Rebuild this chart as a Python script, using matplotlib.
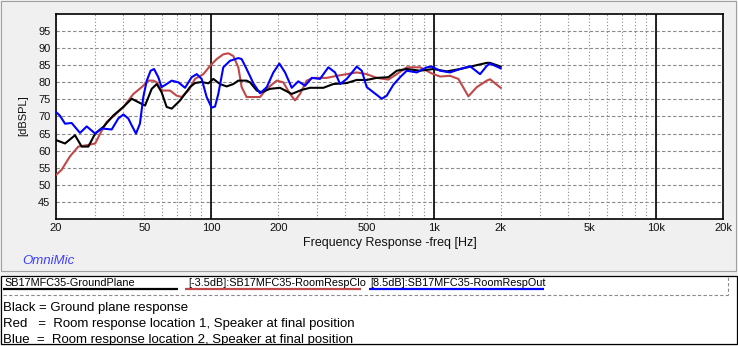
import matplotlib
matplotlib.use("Agg")
import matplotlib.pyplot as plt
from matplotlib.patches import Rectangle
from matplotlib.ticker import FixedLocator, NullFormatter

plt.rcParams['font.family'] = ['Liberation Sans', 'DejaVu Sans']

# ---------------- data ----------------
black_f = [20, 21.96, 24.35, 26.09, 27.96, 30.0, 32.7, 36.2, 40.2, 43.8, 46.9, 50.3, 53.9, 56.8, 59.7,
           62.9, 66.3, 72.3, 80.1, 84.4, 90.4, 96.9, 102.0, 109.3, 117.1, 125.5, 132.1, 144, 149.2, 159.9,
           168.4, 183.6, 203.5, 229.8, 254.9, 277.7, 318.8, 353.6, 406.2, 450.5, 499.7, 554.2, 625.0,
           681.9, 756.2, 868.0, 996.3, 1144.5, 1314.0, 1507.9, 1731.6, 1792, 2000]
black_db = [63.1, 62.1, 64.5, 61.2, 61.2, 65.0, 67.0, 70.3, 72.8, 75.2, 74.2, 73.2, 78.1, 79.5, 77.1,
            72.8, 72.3, 74.7, 78.6, 79.8, 80.1, 79.7, 81.0, 79.5, 78.8, 79.5, 80.5, 80.5, 80.0, 77.6,
            77.1, 78.1, 78.4, 76.6, 77.8, 78.4, 78.4, 79.5, 79.8, 80.7, 80.7, 81.3, 81.5,
            83.4, 83.9, 83.4, 83.9, 83.2, 83.9, 84.8, 85.7, 85.7, 84.6]

red_f = [20, 21.2, 23.1, 25.2, 27.5, 30.0, 31.6, 33.8, 36.9, 40.2, 44.6, 48.6, 52.1, 54.8, 56.8,
         59.7, 65.1, 69.8, 73.5, 78.8, 84.4, 92.0, 98.6, 105.6, 113.1, 119.2, 125.5, 132.1, 136.8, 144,
         155, 165.5, 177.4, 196.7, 210.6, 225.8, 237.8, 250.4, 268.4, 287.3, 330.2, 366.2, 406.2,
         450.5, 499.7, 554.2, 625.0, 681.9, 756.2, 868.0, 979.9, 1067.8, 1184.2, 1290.9, 1431.6,
         1561.9, 1731.6, 1792, 2000]
red_db = [52.9, 54.4, 58.3, 61.2, 61.6, 62.1, 65.0, 68.4, 70.5, 72.8, 76.6, 78.6, 80.5, 80.5, 80.0,
          77.6, 77.6, 76.1, 75.7, 77.6, 81.0, 82.4, 84.8, 86.8, 88.2, 88.5, 87.7, 84.4, 78.6, 75.7,
          75.7, 75.7, 78.1, 80.5, 80.0, 76.6, 74.7, 76.6, 80.5, 81.3, 81.3, 81.9, 82.4,
          82.9, 82.4, 81.3, 80.8, 82.4, 84.4, 84.4, 82.6, 81.7, 81.9, 81.0, 75.9,
          78.6, 80.5, 80.9, 78.4]

blue_f = [20, 20.8, 21.96, 23.52, 25.64, 27.5, 30.0, 32.1, 35.6, 38.1, 40.2, 42.3, 43.8, 45.8, 47.7,
          49.4, 51.2, 53.3, 55.2, 57.7, 59.7, 62.9, 66.3, 71.0, 76.1, 81.5, 85.9, 90.4, 95.2, 100.2,
          103.8, 107.4, 113.1, 121.2, 132.1, 136.8, 144, 155, 165.5, 177.4, 190.0, 202.1, 214.4, 229.8,
          246.0, 263.7, 282.7, 308.0, 335.7, 359.9, 379.0, 406.2, 450.5, 474.5, 499.7, 534.9, 583.7,
          614.7, 658.3, 705.7, 756.2, 838.9, 930.5, 979.9, 1067.8, 1184.2, 1314.0, 1457.3, 1616.0,
          1731.6, 1792, 2000]
blue_db = [71.3, 70.3, 67.9, 68.1, 65.2, 67.1, 65.0, 66.5, 66.2, 69.4, 70.6, 69.4, 67.4, 65.0, 67.9,
           75.7, 80.5, 83.4, 83.9, 81.5, 78.6, 79.5, 80.5, 80.0, 78.4, 81.5, 82.4, 81.0, 75.7, 72.6,
           72.9, 76.6, 84.4, 86.3, 87.1, 86.8, 83.9, 79.5, 76.8, 78.6, 82.9, 85.5, 82.9, 78.4,
           80.3, 79.0, 81.3, 81.0, 84.4, 82.9, 79.5, 81.0, 84.6, 83.4, 78.6, 77.1, 75.2,
           76.1, 79.3, 81.5, 83.4, 82.9, 84.4, 84.6, 83.4, 82.9, 83.9, 84.7, 82.4,
           84.8, 85.5, 84.1]

x_ticks = [20, 50, 100, 200, 500, 1000, 2000, 5000, 10000, 20000]
x_tick_labels = ['20', '50', '100', '200', '500', '1k', '2k', '5k', '10k', '20k']
x_minor = [30, 40, 60, 70, 80, 90, 300, 400, 600, 700, 800, 900,
           3000, 4000, 6000, 7000, 8000, 9000]
x_major_lines = [100, 1000, 10000]
y_ticks = [45, 50, 55, 60, 65, 70, 75, 80, 85, 90, 95]

legend_names = ['SB17MFC35-GroundPlane', '[-3.5dB]:SB17MFC35-RoomRespClose',
                '[8.5dB]:SB17MFC35-RoomRespOut']
notes = ['Black = Ground plane response',
         'Red   =  Room response location 1, Speaker at final position',
         'Blue  =  Room response location 2, Speaker at final position']

C_BLACK = '#000000'
C_RED = '#c04848'
C_BLUE = '#0000ff'
GRID = '#8a8a8a'

# ---------------- figure ----------------
W, H = 738, 346
fig = plt.figure(figsize=(W / 100, H / 100), dpi=100, facecolor='#f0f0f0')

bg = fig.add_axes([0, 0, 1, 1], zorder=0)
bg.set_xlim(0, W)
bg.set_ylim(H, 0)
bg.axis('off')

# upper panel frame
bg.add_patch(Rectangle((1, 1), 735, 270, facecolor='none', edgecolor='#a0a0a0', lw=0.8))
# legend box
bg.add_patch(Rectangle((0.5, 275.5), 736, 68, facecolor='white', edgecolor='black', lw=0.9))

bg.text(22, 261, 'OmniMic', color='#4040ff', style='italic', fontsize=9.5,
        va='center', ha='left')
bg.text(23, 116, '[dBSPL]', rotation=90, fontsize=8, va='center', ha='center', color='#111111')

# legend row
colors = [C_BLACK, C_RED, C_BLUE]
starts = [4, 188, 370]
line_spans = [(3, 178), (185, 361), (369, 544)]
clip_rights = [183, 366, 737]
for name, c, xs, (a, b), cr in zip(legend_names, colors, starts, line_spans, clip_rights):
    t = bg.text(xs, 283, name, fontsize=7.8, va='center', ha='left', color='black', clip_on=True)
    clip = Rectangle((xs - 2, 276), cr - xs + 2, 12, transform=bg.transData)
    t.set_clip_path(clip)
    bg.plot([a, b], [289, 289], color=c, lw=1.6, solid_capstyle='butt')
bg.plot([3, 728], [294.5, 294.5], color=GRID, lw=0.8, ls=(0, (3, 2)))
bg.plot([728, 728], [277, 294.5], color=GRID, lw=0.8, ls=(0, (3, 2)))

box_clip = Rectangle((0.5, 275.5), 736, 68, transform=bg.transData)
for i, line in enumerate(notes):
    t = bg.text(3, 307.5 + 16 * i, line, fontsize=9.5, va='center', ha='left', color='black',
                clip_on=True)
    t.set_clip_path(box_clip)

# ---------------- main plot ----------------
ax = fig.add_axes([56 / W, 1 - 219 / H, 667 / W, 205 / H], zorder=1)
ax.set_facecolor('white')
ax.set_xscale('log')
ax.set_xlim(20, 20000)
ax.set_ylim(40, 100)

ax.xaxis.set_major_locator(FixedLocator(x_ticks))
ax.set_xticklabels(x_tick_labels)
ax.xaxis.set_minor_locator(FixedLocator(x_minor))
ax.xaxis.set_minor_formatter(NullFormatter())
ax.set_yticks(y_ticks)
ax.tick_params(axis='both', which='both', length=0, labelsize=8, colors='#111111')
ax.tick_params(axis='x', pad=3)
ax.tick_params(axis='y', pad=4)

ax.grid(axis='x', which='both', color=GRID, lw=0.8, ls=(0, (1, 2)))
ax.grid(axis='y', which='major', color=GRID, lw=0.8, ls=(0, (3, 2)))
for xv in x_major_lines:
    ax.axvline(xv, color='black', lw=1.2, zorder=2)

ax.plot(red_f, red_db, color=C_RED, lw=1.5, zorder=3)
ax.plot(black_f, black_db, color=C_BLACK, lw=1.5, zorder=4)
ax.plot(blue_f, blue_db, color=C_BLUE, lw=1.5, zorder=5)

for s in ax.spines.values():
    s.set_color('black')
    s.set_linewidth(1.2)

ax.set_xlabel('Frequency Response -freq [Hz]', fontsize=9, labelpad=3, color='#111111')

fig.savefig('out.png', dpi=100, facecolor=fig.get_facecolor())
